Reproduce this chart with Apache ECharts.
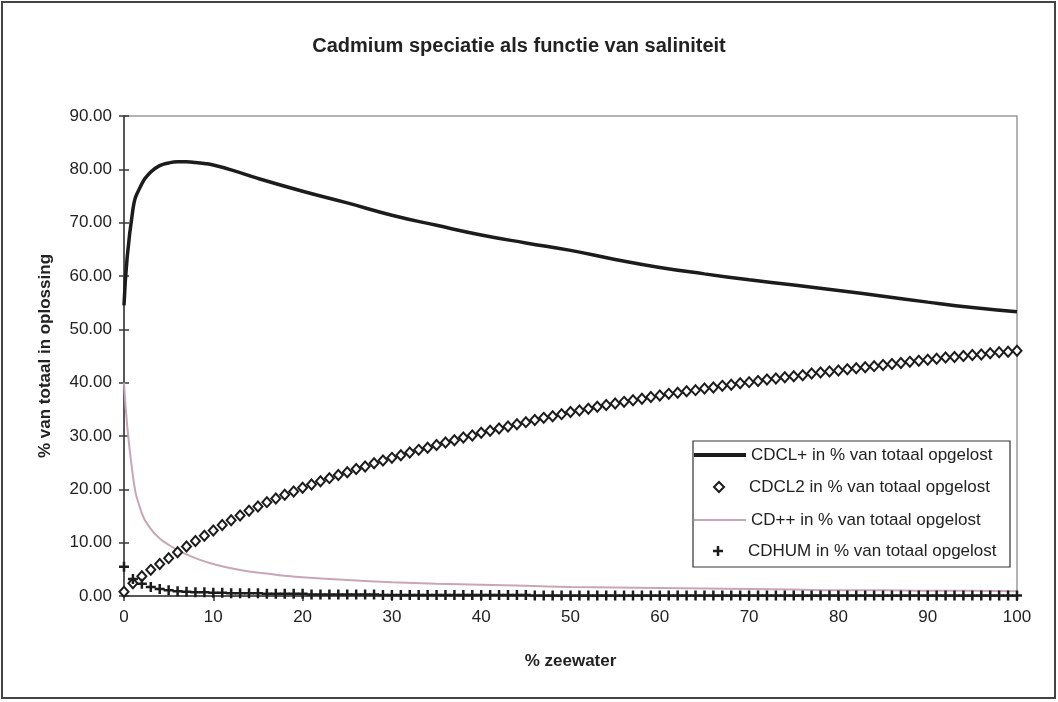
<!DOCTYPE html>
<html>
<head>
<meta charset="utf-8">
<script src="https://cdn.jsdelivr.net/npm/echarts@6/dist/echarts.min.js"></script>
<style>
  html, body { margin: 0; padding: 0; background: #fff; }
  #chart { width: 1058px; height: 702px; }
</style>
</head>
<body>
<div id="chart"></div>
<script>
// Cadmium speciation versus salinity (% seawater)
const chartTitle = 'Cadmium speciatie als functie van saliniteit';
const xAxisName = '% zeewater';
const yAxisName = '% van totaal in oplossing';
const seriesNames = [
  'CDCL+ in % van totaal opgelost',
  'CDCL2 in % van totaal opgelost',
  'CD++ in % van totaal opgelost',
  'CDHUM in % van totaal opgelost'
];

// % seawater steps used for the marker series
const zeewater = [
  0, 1, 2, 3, 4, 5, 6, 7, 8, 9,
  10, 11, 12, 13, 14, 15, 16, 17, 18, 19,
  20, 21, 22, 23, 24, 25, 26, 27, 28, 29,
  30, 31, 32, 33, 34, 35, 36, 37, 38, 39,
  40, 41, 42, 43, 44, 45, 46, 47, 48, 49,
  50, 51, 52, 53, 54, 55, 56, 57, 58, 59,
  60, 61, 62, 63, 64, 65, 66, 67, 68, 69,
  70, 71, 72, 73, 74, 75, 76, 77, 78, 79,
  80, 81, 82, 83, 84, 85, 86, 87, 88, 89,
  90, 91, 92, 93, 94, 95, 96, 97, 98, 99,
  100
];

// CdCl+ (solid line)
const cdclPlusX = [0, 1, 2, 3, 4, 5, 6, 7, 8, 9, 10, 12, 15, 20, 25, 30, 35, 40, 45, 50, 55, 60, 65, 70, 75, 80, 85, 90, 95, 100];
const cdclPlus = [54.5, 72.5, 77.3, 79.5, 80.7, 81.2, 81.4, 81.4, 81.3, 81.1, 80.8, 79.9, 78.3, 75.9, 73.7, 71.4, 69.5, 67.7, 66.2, 64.8, 63.1, 61.6, 60.4, 59.3, 58.3, 57.3, 56.2, 55.1, 54.1, 53.3];

// CdCl2 (diamonds), one value per zeewater step
const cdcl2 = [
  0.8, 2.4, 3.7, 4.9, 6.0, 7.1, 8.2, 9.3, 10.3, 11.3,
  12.3, 13.3, 14.2, 15.1, 16.0, 16.8, 17.6, 18.3, 19.0, 19.6,
  20.3, 20.9, 21.5, 22.1, 22.7, 23.2, 23.8, 24.3, 24.9, 25.4,
  25.9, 26.4, 26.9, 27.4, 27.8, 28.3, 28.8, 29.2, 29.7, 30.1,
  30.6, 31.0, 31.4, 31.8, 32.2, 32.6, 33.0, 33.4, 33.7, 34.1,
  34.5, 34.8, 35.1, 35.5, 35.8, 36.1, 36.4, 36.7, 37.0, 37.3,
  37.6, 37.9, 38.1, 38.4, 38.6, 38.9, 39.1, 39.4, 39.6, 39.9,
  40.1, 40.3, 40.6, 40.8, 41.0, 41.2, 41.4, 41.7, 41.9, 42.1,
  42.3, 42.5, 42.7, 42.9, 43.1, 43.3, 43.5, 43.7, 43.9, 44.1,
  44.3, 44.5, 44.7, 44.8, 45.0, 45.2, 45.3, 45.5, 45.7, 45.8,
  46.0
];

// Cd++ (thin pink line)
const cdFreeX = [0, 1, 2, 3, 4, 5, 6, 7, 8, 9, 10, 12, 14, 16, 18, 20, 25, 30, 35, 40, 45, 50, 55, 60, 65, 70, 75, 80, 85, 90, 95, 100];
const cdFree = [40.0, 22.5, 15.5, 12.6, 10.8, 9.6, 8.6, 7.8, 7.1, 6.5, 6.0, 5.2, 4.6, 4.2, 3.8, 3.5, 3.0, 2.6, 2.3, 2.1, 1.9, 1.7, 1.6, 1.5, 1.4, 1.3, 1.2, 1.1, 1.1, 1.0, 1.0, 0.9];

// Cd bound to humic matter (plus markers), one value per zeewater step
const cdhum = [
  5.5, 3.2, 2.3, 1.7, 1.3, 1.1, 0.9, 0.8, 0.7, 0.7,
  0.6, 0.6, 0.5, 0.5, 0.5, 0.5, 0.4, 0.4, 0.4, 0.4,
  0.4, 0.3, 0.3, 0.3, 0.3, 0.3, 0.3, 0.3, 0.3, 0.2,
  0.2, 0.2, 0.2, 0.2, 0.2, 0.2, 0.2, 0.2, 0.2, 0.2,
  0.2, 0.2, 0.2, 0.2, 0.2, 0.2, 0.1, 0.1, 0.1, 0.1,
  0.1, 0.1, 0.1, 0.1, 0.1, 0.1, 0.1, 0.1, 0.1, 0.1,
  0.1, 0.1, 0.1, 0.1, 0.1, 0.1, 0.1, 0.1, 0.1, 0.1,
  0.1, 0.1, 0.1, 0.1, 0.1, 0.1, 0.1, 0.1, 0.1, 0.1,
  0.1, 0.1, 0.1, 0.1, 0.1, 0.1, 0.1, 0.1, 0.1, 0.1,
  0.1, 0.1, 0.1, 0.1, 0.1, 0.1, 0.1, 0.1, 0.1, 0.1,
  0.1
];

const FONT = "'Liberation Sans', Arial, sans-serif";
const INK = '#1c1c1c';
const TEXT = '#222';
const PINK = '#c9a6b6';
const PLUS = 'path://M3,0H5V3H8V5H5V8H3V5H0V3H3Z';

const pair = (xs, ys) => xs.map((x, i) => [x, ys[i]]);

const legendText = { fontFamily: FONT, fontSize: 17, color: TEXT, lineHeight: 20 };

const chart = echarts.init(document.getElementById('chart'), null, { renderer: 'canvas' });

chart.setOption({
  animation: false,
  backgroundColor: '#fff',
  textStyle: { fontFamily: FONT },
  title: {
    text: chartTitle,
    left: 519,
    top: 36,
    padding: 0,
    textAlign: 'center',
    textStyle: { fontFamily: FONT, fontSize: 20, fontWeight: 'bold', color: TEXT }
  },
  grid: {
    left: 124, right: 41, top: 116, bottom: 106,
    show: true, borderColor: '#9a9a9a', borderWidth: 1.5, backgroundColor: 'transparent'
  },
  xAxis: {
    type: 'value', min: 0, max: 100, interval: 10,
    name: xAxisName, nameLocation: 'middle', nameGap: 57,
    nameTextStyle: { fontFamily: FONT, fontSize: 17, fontWeight: 'bold', color: TEXT },
    axisLine: { show: true, lineStyle: { color: '#3a3a3a', width: 1.5 } },
    axisTick: { show: true, length: 5, lineStyle: { color: '#3a3a3a', width: 1.5 } },
    axisLabel: { fontFamily: FONT, fontSize: 17, color: TEXT, margin: 13 },
    splitLine: { show: false }
  },
  yAxis: [
    {
      type: 'value', min: 0, max: 90, interval: 10, position: 'left',
      name: yAxisName, nameLocation: 'middle', nameGap: 70,
      nameTextStyle: { fontFamily: FONT, fontSize: 17, fontWeight: 'bold', color: TEXT },
      axisLine: { show: true, lineStyle: { color: '#3a3a3a', width: 1.5 } },
      axisTick: { show: true, length: 5, lineStyle: { color: '#3a3a3a', width: 1.5 } },
      axisLabel: { fontFamily: FONT, fontSize: 17, color: TEXT, margin: 12, formatter: v => v.toFixed(2) },
      splitLine: { show: false }
    },
    {
      // inner half of the cross-shaped ticks
      type: 'value', min: 0, max: 90, interval: 10, position: 'left',
      axisLine: { show: false },
      axisTick: { show: true, inside: true, length: 5, lineStyle: { color: '#3a3a3a', width: 1.5 } },
      axisLabel: { show: false },
      splitLine: { show: false }
    }
  ],
  legend: [
    {
      data: [{ name: seriesNames[0], icon: 'rect', itemStyle: { color: INK } }],
      left: 694, top: 445, padding: 0,
      itemWidth: 52, itemHeight: 4, textStyle: legendText, selectedMode: false
    },
    {
      data: [{ name: seriesNames[1], itemStyle: { color: '#fff', borderColor: INK, borderWidth: 2 } }],
      left: 713, top: 477, padding: 0, itemWidth: 10, itemHeight: 10,
      textStyle: Object.assign({}, legendText, { padding: [0, 0, 0, 20] }), selectedMode: false
    },
    {
      data: [{ name: seriesNames[2], icon: 'rect', itemStyle: { color: PINK } }],
      left: 694, top: 510, padding: 0,
      itemWidth: 52, itemHeight: 2, textStyle: legendText, selectedMode: false
    },
    {
      data: [seriesNames[3]], left: 713, top: 541, padding: 0, itemWidth: 10, itemHeight: 10,
      textStyle: Object.assign({}, legendText, { padding: [0, 0, 0, 20] }), selectedMode: false
    }
  ],
  graphic: [
    {
      type: 'rect', silent: true, z: 0,
      shape: { x: 2, y: 2, width: 1053, height: 696 },
      style: { fill: 'none', stroke: '#444', lineWidth: 2 }
    },
    {
      type: 'rect', silent: true, z: 0,
      shape: { x: 693, y: 441, width: 317, height: 126 },
      style: { fill: 'none', stroke: '#333', lineWidth: 1.2 }
    }
  ],
  series: [
    {
      name: seriesNames[2], type: 'line', data: pair(cdFreeX, cdFree),
      symbol: 'none', smooth: 0.5, z: 2,
      lineStyle: { color: PINK, width: 2 }, itemStyle: { color: PINK }
    },
    {
      name: seriesNames[0], type: 'line', data: pair(cdclPlusX, cdclPlus),
      symbol: 'none', smooth: 0.5, z: 3,
      lineStyle: { color: INK, width: 3.5 }, itemStyle: { color: INK }
    },
    {
      name: seriesNames[1], type: 'scatter', data: pair(zeewater, cdcl2),
      symbol: 'diamond', symbolSize: [9, 10], z: 4, clip: false,
      itemStyle: { color: '#fff', borderColor: INK, borderWidth: 2, opacity: 1 }
    },
    {
      name: seriesNames[3], type: 'scatter', data: pair(zeewater, cdhum),
      symbol: PLUS, symbolSize: 10, z: 5, clip: false,
      itemStyle: { color: INK, opacity: 1 }
    }
  ]
});
</script>
</body>
</html>
